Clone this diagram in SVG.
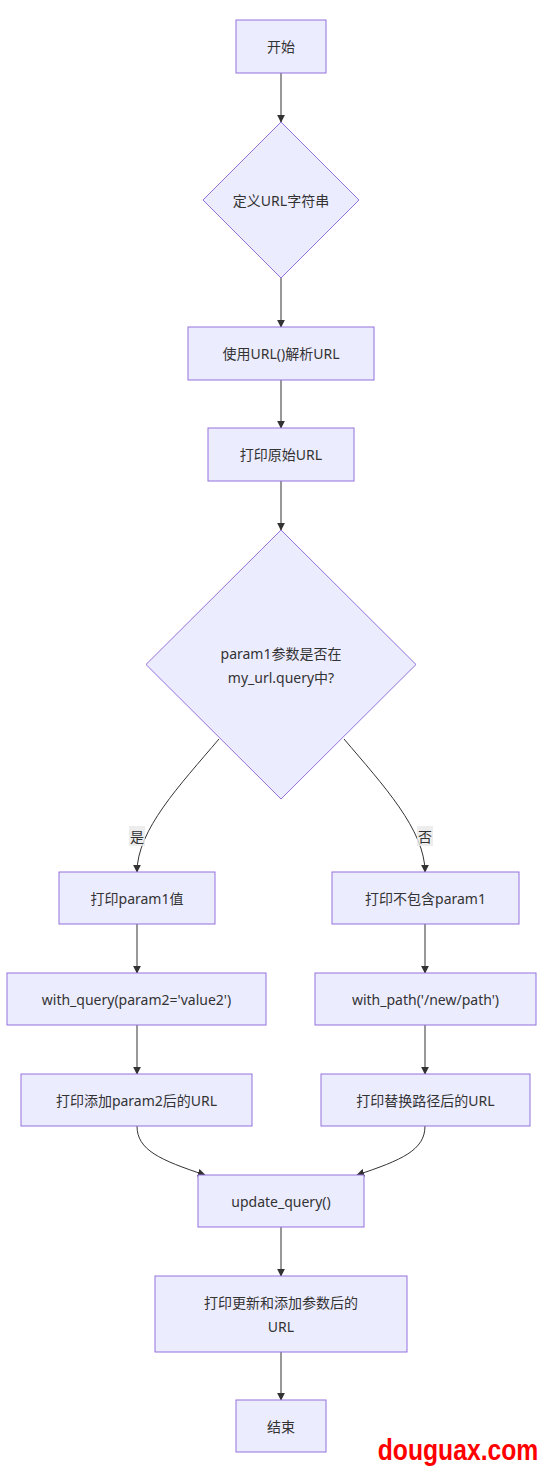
<svg xmlns="http://www.w3.org/2000/svg" width="544" height="1474" viewBox="0 0 544 1474">
<defs>
<marker id="arr" viewBox="0 0 10 10" refX="9" refY="5" markerWidth="8" markerHeight="8" markerUnits="userSpaceOnUse" orient="auto"><path d="M0,0 L10,5 L0,10 z" fill="#333"/></marker>
<style>
.n{fill:#ECECFF;stroke:#9370DB;stroke-width:1}
.t{font-family:"Noto Sans","Noto Sans CJK SC",sans-serif;font-size:14px;fill:#333;text-anchor:middle;dominant-baseline:central}
.e{fill:none;stroke:#333;stroke-width:1;marker-end:url(#arr)}
.lb{fill:#e8e8e8;opacity:0.8}
</style>
</defs>
<rect width="544" height="1474" fill="#fff"/>
<g id="edges">
<path class="e" d="M281,73 L281,122"/>
<path class="e" d="M281,278 L281,327"/>
<path class="e" d="M281,380 L281,428"/>
<path class="e" d="M281,481 L281,530"/>
<path class="e" d="M219,739 C180,785 137,830 137,872"/>
<path class="e" d="M344,739 C383,785 425,830 425,872"/>
<path class="e" d="M137,924 L137,973"/>
<path class="e" d="M425,924 L425,973"/>
<path class="e" d="M137,1025 L137,1074"/>
<path class="e" d="M425,1025 L425,1074"/>
<path class="e" d="M137,1126 C137,1150 160,1160 205,1175"/>
<path class="e" d="M425,1126 C425,1150 402,1160 357,1175"/>
<path class="e" d="M281,1227 L281,1276"/>
<path class="e" d="M281,1352 L281,1400"/>
<rect class="lb" x="129" y="826" width="16" height="20"/>
<text class="t" x="137" y="836">是</text>
<rect class="lb" x="417" y="826" width="16" height="20"/>
<text class="t" x="425" y="836">否</text>
</g>
<g id="start"><rect class="n" x="236" y="20" width="90" height="53"/><text class="t" x="281" y="46.500">开始</text></g>
<g id="define"><polygon class="n" points="281,122 359,200 281,278 203,200"/><text class="t" x="281" y="200">定义URL字符串</text></g>
<g id="parse"><rect class="n" x="188" y="327" width="186" height="53"/><text class="t" x="281" y="353.500">使用URL()解析URL</text></g>
<g id="printorig"><rect class="n" x="208" y="428" width="146" height="53"/><text class="t" x="281" y="454.500">打印原始URL</text></g>
<g id="check"><polygon class="n" points="281,530 416,664.500 281,799 146,664.500"/><text class="t" x="281" y="653">param1参数是否在</text><text class="t" x="281" y="677">my_url.query中?</text></g>
<g id="printp1"><rect class="n" x="59" y="872" width="156" height="52"/><text class="t" x="137" y="898">打印param1值</text></g>
<g id="printnop1"><rect class="n" x="332" y="872" width="187" height="52"/><text class="t" x="425.500" y="898">打印不包含param1</text></g>
<g id="withquery"><rect class="n" x="7" y="973" width="259" height="52"/><text class="t" x="136.500" y="999">with_query(param2='value2')</text></g>
<g id="withpath"><rect class="n" x="315" y="973" width="221" height="52"/><text class="t" x="425.500" y="999">with_path('/new/path')</text></g>
<g id="printadd"><rect class="n" x="21" y="1074" width="231" height="52"/><text class="t" x="136.500" y="1100">打印添加param2后的URL</text></g>
<g id="printrep"><rect class="n" x="321" y="1074" width="209" height="52"/><text class="t" x="425.500" y="1100">打印替换路径后的URL</text></g>
<g id="update"><rect class="n" x="198" y="1175" width="166" height="52"/><text class="t" x="281" y="1201">update_query()</text></g>
<g id="printupd"><rect class="n" x="155" y="1276" width="252" height="76"/><text class="t" x="281" y="1302">打印更新和添加参数后的</text><text class="t" x="281" y="1326">URL</text></g>
<g id="end"><rect class="n" x="236" y="1400" width="90" height="52"/><text class="t" x="281" y="1426">结束</text></g>
<text transform="translate(458,1460) scale(1.03,1.25)" x="0" y="0" text-anchor="middle" font-family="'Liberation Sans',sans-serif" font-weight="bold" font-size="24" fill="#ff0000">douguax.com</text>
</svg>
